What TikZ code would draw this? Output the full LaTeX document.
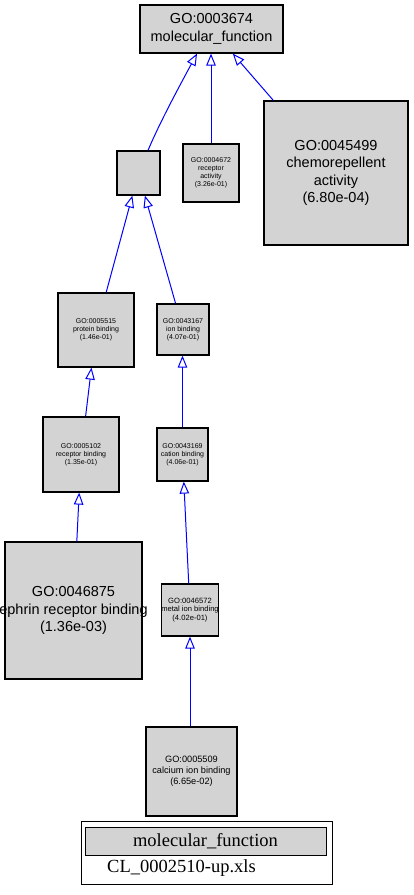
\documentclass[tikz,border=0pt]{standalone}
\usepackage{fontspec}
\setmainfont{Liberation Serif}
\newfontfamily\nodefont{Liberation Sans}
\usetikzlibrary{arrows.meta}
\definecolor{nodefill}{RGB}{211,211,211}
\definecolor{edgeblue}{RGB}{0,0,255}
\tikzset{
  gobox/.style={draw=black, line width=1.2pt, fill=nodefill, inner sep=0pt, align=center, font=\nodefont},
  bigtext/.style={font=\nodefont\fontsize{14.5}{17.5}\selectfont},
  smalltext/.style={font=\nodefont\fontsize{7}{8}\selectfont},
  edge/.style={draw=edgeblue, line width=1pt, -{Triangle[open, length=12pt, width=9.5pt, line width=1pt]}},
}
\begin{document}
\begin{tikzpicture}[x=1pt, y=-1pt]
\useasboundingbox (0,0) rectangle (413,895);
\node[gobox, bigtext, minimum width=143pt, minimum height=48pt] (top) at (211.5,29) {GO:0003674\\molecular\_function};
\node[gobox, minimum width=43pt, minimum height=44pt] (blank) at (138.5,173) {};
\node[gobox, smalltext, minimum width=56pt, minimum height=58pt] (n4672) at (211,173) {GO:0004672\\receptor\\activity\\(3.26e-01)};
\node[gobox, bigtext, minimum width=144pt, minimum height=144pt] (n45499) at (336,173) {GO:0045499\\chemorepellent\\activity\\(6.80e-04)};
\node[gobox, smalltext, minimum width=76pt, minimum height=74pt] (n5515) at (96,330) {GO:0005515\\protein binding\\(1.46e-01)};
\node[gobox, smalltext, minimum width=52pt, minimum height=51pt] (n43167) at (183,329.5) {GO:0043167\\ion binding\\(4.07e-01)};
\node[gobox, smalltext, minimum width=76pt, minimum height=75pt] (n5102) at (81,454.5) {GO:0005102\\receptor binding\\(1.35e-01)};
\node[gobox, smalltext, minimum width=51pt, minimum height=53pt] (n43169) at (182.5,454.5) {GO:0043169\\cation binding\\(4.06e-01)};
\node[gobox, bigtext, minimum width=137pt, minimum height=137pt] (n46875) at (73.5,610.5) {GO:0046875\\\makebox[120pt]{ephrin receptor binding}\\(1.36e-03)};
\node[gobox, font=\nodefont\fontsize{7.6}{8.2}\selectfont, minimum width=52pt, minimum height=52pt] (n46572) at (190,610) {GO:0046572\\metal ion binding\\(4.02e-01)};
\node[gobox, font=\nodefont\fontsize{9.2}{10.8}\selectfont, minimum width=91pt, minimum height=89pt] (n5509) at (191.5,771.5) {GO:0005509\\calcium ion binding\\(6.65e-02)};
% edges
\draw[edge] ([xshift=9.5pt]blank.north) .. controls (160,122) and (180,85) .. ([xshift=-14.5pt]top.south);
\draw[edge] (n4672.north) -- (n4672.north |- top.south);
\draw[edge] (n45499) -- (top);
\draw[edge] (n5515) -- (blank);
\draw[edge] (n43167) -- (blank);
\draw[edge] (n5102) -- (n5515);
\draw[edge] (n43169.north) -- (n43169.north |- n43167.south);
\draw[edge] (n46875) -- (n5102);
\draw[edge] (n46572) -- (n43169);
\draw[edge] (n5509.north -| n46572.south) -- (n46572.south);
% legend
\node[draw=black, line width=1pt, fill=white, minimum width=251pt, minimum height=63pt, inner sep=0pt] (legend) at (206.5,852.5) {};
\node[draw=black, line width=1pt, fill=nodefill, minimum width=241pt, minimum height=28pt, inner sep=0pt, font=\fontsize{18.5}{20}\selectfont] (legtitle) at (205.5,841) {molecular\_function};
\node[anchor=west, inner sep=0pt, font=\fontsize{18.5}{20}\selectfont] (legfile) at (107,868) {CL\_0002510-up.xls};
\end{tikzpicture}
\end{document}
